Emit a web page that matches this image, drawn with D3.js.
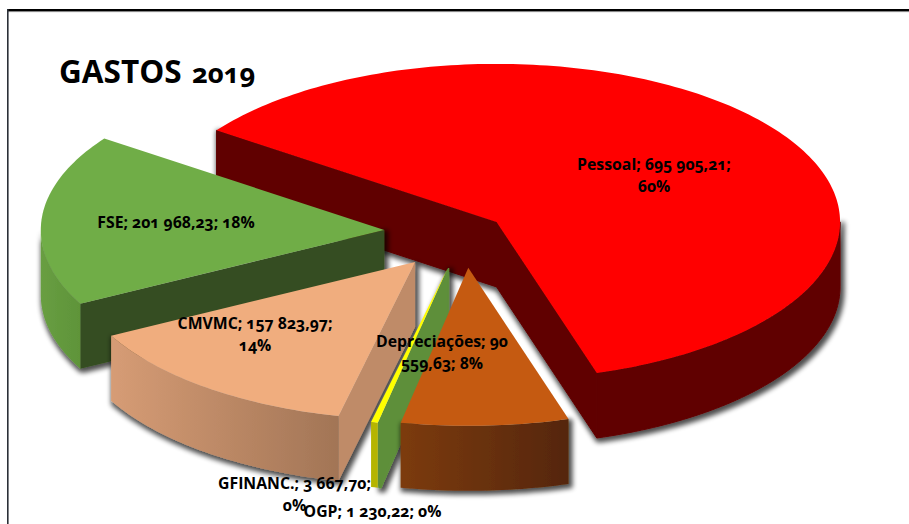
<!DOCTYPE html>
<html><head><meta charset="utf-8">
<script src="https://cdn.jsdelivr.net/npm/d3@7/dist/d3.min.js"></script>
<style>html,body{margin:0;padding:0;background:#fff}svg{display:block}
text{font-family:"Open Sans","Lato",sans-serif;font-weight:700;fill:#000;font-variant-numeric:oldstyle-nums;font-feature-settings:"onum"}</style>
</head><body><svg id="c" width="909" height="524"></svg>
<script>
const titleWords = ["GASTOS","2019"];
const categories = ["Pessoal","Depreciações","OGP","GFINANC.","CMVMC","FSE"];
const values = [695905.21,90559.63,1230.22,3667.70,157823.97,201968.23];
const explosion = [0.115,0.224,0.23,0.23,0.236,0.234];
const topColors = ["#ff0000","#c55a11","#70ad47","#ffff00","#f0ad7e","#70ad47"];
const rimFrom = ["#600000","#7c3b0d","#5e8f3a","#b5b500","#d69c75","#689e42"];
const rimTo = ["#600000","#552608","#5e8f3a","#b5b500","#a27556","#5f9439"];
const cutColors = ["#600000","#c55a11","#5e8f3a","#5e8f3a","#bf8b68","#354e20"];
const labelBreak = [3,2,9,3,3,9];
const drawOrder = [0,5,4,2,3,1];
const firstAngle = -54.6;

const W=909,H=524,cx=464.5,cy=232.5,rx=343.5,ry=158,depth=65;
const svg=d3.select("#c");
const toRad=d=>d*Math.PI/180;
const total=d3.sum(values);
const pie=d3.pie().sort(null).startAngle(toRad(firstAngle)).endAngle(toRad(firstAngle+360))(values);
const sx=d3.scaleLinear().domain([-1,1]).range([-rx,rx]);
const sy=d3.scaleLinear().domain([-1,1]).range([ry,-ry]);
const defs=svg.append("defs");
const f=defs.append("filter").attr("id","sh").attr("x","-20%").attr("y","-20%").attr("width","140%").attr("height","140%");
f.append("feMorphology").attr("in","SourceAlpha").attr("operator","dilate").attr("radius",2).attr("result","d");
f.append("feOffset").attr("in","d").attr("dx",2).attr("dy",2).attr("result","o");
f.append("feGaussianBlur").attr("in","o").attr("stdDeviation",2.5).attr("result","b");
f.append("feComponentTransfer").attr("in","b").attr("result","t").append("feFuncA").attr("type","linear").attr("slope",0.7);
const m=f.append("feMerge");m.append("feMergeNode").attr("in","t");m.append("feMergeNode").attr("in","SourceGraphic");

const line=d3.line().x(d=>d[0]).y(d=>d[1]);
function pt(a,tip,dz=0){return [tip[0]+sx(Math.sin(a)),tip[1]+sy(Math.cos(a))+dz];}
function samples(a0,a1){const n=Math.max(2,Math.ceil((a1-a0)/0.02));return d3.range(n+1).map(i=>a0+(a1-a0)*i/n);}

drawOrder.forEach(i=>{
  const d=pie[i],e=explosion[i],mid=(d.startAngle+d.endAngle)/2;
  const tip=[cx+sx(e*Math.sin(mid)),cy+sy(e*Math.cos(mid))];
  const g=svg.append("g");
  const walls=g.append("g");
  const thin=(d.endAngle-d.startAngle)<toRad(2);
  if(!thin||i===2) walls.attr("filter","url(#sh)");
  const solid=rimFrom[i]===rimTo[i];
  let rimFill=rimFrom[i];
  if(!solid){
    const gid="rim"+i;
    const lg=defs.append("linearGradient").attr("id",gid);
    lg.append("stop").attr("offset",0).attr("stop-color",rimFrom[i]);
    lg.append("stop").attr("offset",1).attr("stop-color",rimTo[i]);
    rimFill="url(#"+gid+")";
  }
  const seamless=cutColors[i]===rimFrom[i];
  [d.startAngle,d.endAngle].forEach(a=>{
    const p=pt(a,tip);
    const facing=(a===d.startAngle)?-(p[0]-tip[0]):(p[0]-tip[0]);
    if(facing>0){
      const w=walls.append("path")
        .attr("d",line([tip,p,[p[0],p[1]+depth],[tip[0],tip[1]+depth]])+"Z").attr("fill",cutColors[i]);
      if(seamless) w.attr("stroke",cutColors[i]).attr("stroke-width",1);
    }
  });
  const a0=Math.max(d.startAngle,toRad(90)),b0=Math.min(d.endAngle,toRad(270));
  if(b0>a0){
    const s=samples(a0,b0);
    const top=s.map(a=>pt(a,tip)),bot=s.map(a=>pt(a,tip,depth)).reverse();
    const r=walls.append("path").attr("d",line(top.concat(bot))+"Z").attr("fill",rimFill);
    if(seamless) r.attr("stroke",rimFrom[i]).attr("stroke-width",1);
  }
  const s=samples(d.startAngle,d.endAngle);
  g.append("path").attr("d",line([tip].concat(s.map(a=>pt(a,tip))))+"Z").attr("fill",topColors[i]);
});

// frame
svg.append("rect").attr("x",7).attr("y",9).attr("width",W-7).attr("height",2.2).attr("fill","#000");
svg.append("rect").attr("x",7).attr("y",11.2).attr("width",W-7).attr("height",0.9).attr("fill","#777");
svg.append("rect").attr("x",7).attr("y",9).attr("width",1.6).attr("height",H-9).attr("fill","#2b3038");

// title
const title=svg.append("text").attr("y",83);
title.append("tspan").attr("x",59).attr("font-size",31.5).text(titleWords[0]);
title.append("tspan").attr("x",192).attr("font-size",27.5).text(titleWords[1]);

// labels
const locale=d3.formatLocale({decimal:",",thousands:"\u0020",grouping:[3],currency:["","€"]});
const fmt=locale.format(",.2f");
const labelAt=[[654,170],[442,347],[372.5,517],[294.5,489],[255,329],[176,228]];
categories.forEach((c,i)=>{
  const tokens=`${c}; ${fmt(values[i])}; ${Math.round(values[i]/total*100)}%`.split(" ");
  const lines=[tokens.slice(0,labelBreak[i]).join(" "),tokens.slice(labelBreak[i]).join(" ")].filter(Boolean);
  const t=svg.append("text").attr("text-anchor","middle").attr("font-size",15.8);
  lines.forEach((l,j)=>t.append("tspan").attr("x",labelAt[i][0]).attr("y",labelAt[i][1]+j*21.5).text(l));
});
</script></body></html>
